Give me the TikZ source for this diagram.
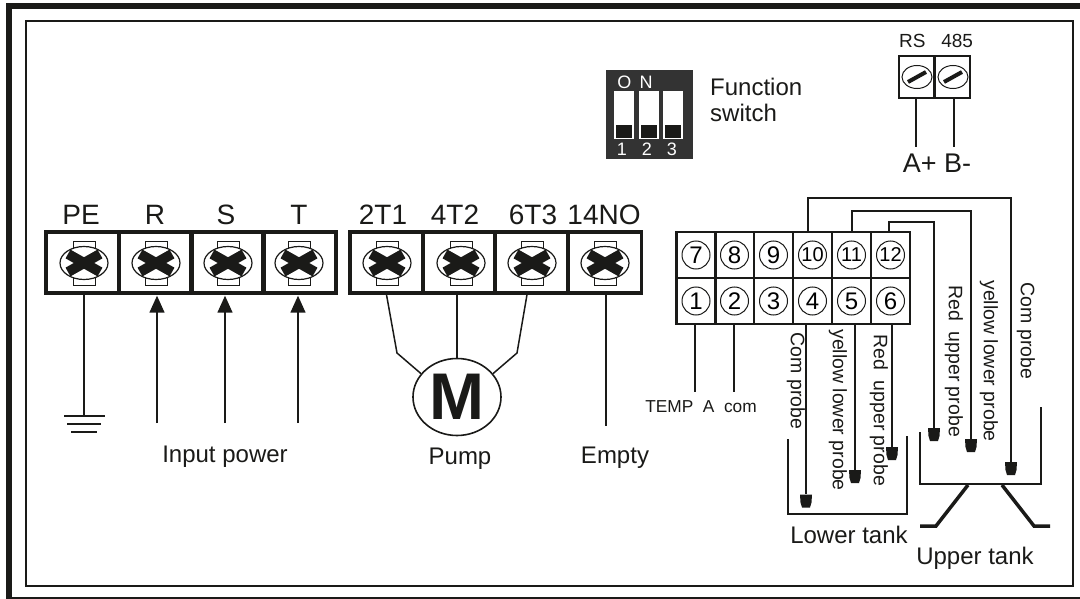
\documentclass[tikz,border=0pt]{standalone}
\usepackage{fontspec}
\setmainfont{Liberation Sans}
\usetikzlibrary{arrows.meta,shapes.geometric}
\definecolor{dipgray}{HTML}{333333}
\definecolor{inkblack}{HTML}{1A1A18}

\tikzset{
  wire/.style={draw=inkblack, line width=1.5pt},
  bigcell/.style={rectangle, draw=inkblack, line width=3.4pt, minimum width=73pt, minimum height=61pt, inner sep=0pt},
  numcell/.style={rectangle, draw=inkblack, line width=2.4pt, minimum width=39pt, minimum height=46pt, inner sep=0pt},
  smallcell/.style={rectangle, draw=inkblack, line width=2pt, minimum width=36pt, minimum height=42pt, inner sep=0pt},
  numring/.style={circle, draw=inkblack, line width=1pt, minimum size=28pt, inner sep=0pt, font=\fontsize{24}{26}\selectfont},
  wideno/.style={numring, font=\fontsize{20}{24}\selectfont},
  lab/.style={inner sep=0pt, text=inkblack, font=\fontsize{24}{28}\selectfont},
  termlab/.style={inner sep=0pt, text=inkblack, font=\fontsize{28}{30}\selectfont},
  sidelab/.style={inner sep=0pt, text=inkblack, rotate=-90, font=\fontsize{19.5}{22}\selectfont},
  probehead/.style={rectangle, minimum width=12pt, minimum height=13pt, inner sep=0pt,
    path picture={\fill[inkblack] (path picture bounding box.north west) -- (path picture bounding box.north east)
      -- ([xshift=-0.5,yshift=5]path picture bounding box.south east) -- ([xshift=-2,yshift=0]path picture bounding box.south east)
      -- ([xshift=2,yshift=0]path picture bounding box.south west) -- ([xshift=0.5,yshift=5]path picture bounding box.south west) -- cycle;}},
  slider/.style={rectangle, fill=white, minimum width=20pt, minimum height=48pt, inner sep=0pt},
  knob/.style={rectangle, fill=inkblack, minimum width=16pt, minimum height=13pt, inner sep=0pt},
  diptext/.style={inner sep=0pt, text=white, font=\fontsize{18}{20}\selectfont},
  bigscrew/.pic={
    \draw[draw=inkblack, fill=white, line width=1pt] (-11,-22) rectangle (11,22);
    \draw[draw=inkblack, fill=white, line width=1.2pt] (0,0) ellipse (24 and 16.5);
    \draw[draw=inkblack, line width=10pt] (-16,-9) -- (16,9);
    \draw[draw=inkblack, line width=10pt] (-16,9) -- (16,-9);
  },
  slotscrew/.pic={
    \draw[draw=inkblack, fill=white, line width=1pt] (0,0) ellipse (15 and 11.5);
    \draw[draw=inkblack, line width=4pt] (-9,5) -- (9,-5);
  }
}

\begin{document}
\begin{tikzpicture}[x=1pt, y=-1pt]
  \useasboundingbox (0,0) rectangle (1080,599);

  % frame
  \draw[draw=inkblack, line width=6pt] (9,599) -- (9,6) -- (1080,6);
  \draw[draw=inkblack, line width=1.2pt] (26,21) rectangle (1073,586);
  \draw[draw=inkblack, line width=1.2pt] (9,598) -- (1080,598);

  % power terminals
  \node[bigcell] (cPE) at (82.5,262.5) {};
  \node[bigcell] (cR) at (155.5,262.5) {};
  \node[bigcell] (cS) at (227.5,262.5) {};
  \node[bigcell] (cT) at (299.5,262.5) {};
  \node[bigcell] (c2T1) at (386.5,262.5) {};
  \node[bigcell] (c4T2) at (459,262.5) {};
  \node[bigcell] (c6T3) at (531.5,262.5) {};
  \node[bigcell] (c14NO) at (605,262.5) {};
  \pic at (84,263) {bigscrew};
  \pic at (156,263) {bigscrew};
  \pic at (228,263) {bigscrew};
  \pic at (299,263) {bigscrew};
  \pic at (387,263) {bigscrew};
  \pic at (461,263) {bigscrew};
  \pic at (532,263) {bigscrew};
  \pic at (605,263) {bigscrew};

  \node[termlab] (lPE) at (81,215) {PE};
  \node[termlab] (lR) at (155,215) {R};
  \node[termlab] (lS) at (226,215) {S};
  \node[termlab] (lT) at (299,215) {T};
  \node[termlab] (l2T1) at (383,215) {2T1};
  \node[termlab] (l4T2) at (455,215) {4T2};
  \node[termlab] (l6T3) at (533,215) {6T3};
  \node[termlab] (l14NO) at (604,215) {14NO};

  % earth and input lines
  \coordinate (gnd) at (84,416);
  \coordinate (inR) at (157,423);
  \coordinate (inS) at (225,423);
  \coordinate (inT) at (298,423);
  \draw[wire] (gnd |- cPE.south) -- (gnd);
  \draw[wire] ([xshift=-20]gnd) -- ([xshift=21]gnd);
  \draw[wire] ([xshift=-17,yshift=-8]gnd) -- ([xshift=17,yshift=-8]gnd);
  \draw[wire] ([xshift=-13,yshift=-16]gnd) -- ([xshift=13,yshift=-16]gnd);
  \draw[wire, -{Triangle[length=17pt,width=15pt]}, shorten >=1pt] (inR) -- (inR |- cR.south);
  \draw[wire, -{Triangle[length=17pt,width=15pt]}, shorten >=1pt] (inS) -- (inS |- cS.south);
  \draw[wire, -{Triangle[length=17pt,width=15pt]}, shorten >=1pt] (inT) -- (inT |- cT.south);
  \node[lab] (lInput) at (225,457) {Input power};

  % pump
  \node[ellipse, draw=inkblack, line width=1.6pt, minimum width=88pt, minimum height=77pt, inner sep=0pt,
        font=\fontsize{66}{68}\bfseries\selectfont, text=inkblack] (motor) at (457,397) {M};
  \draw[wire] (c2T1.south) -- (397,353) -- (motor.147);
  \draw[wire] (motor |- c4T2.south) -- (motor.north);
  \draw[wire] ([xshift=-4.5]c6T3.south) -- (517,353) -- (motor.33);
  \node[lab] (lPump) at (460,459) {Pump};

  % empty
  \coordinate (emptyEnd) at (606,426);
  \draw[wire] (emptyEnd |- c14NO.south) -- (emptyEnd);
  \node[lab] (lEmpty) at (615,458) {Empty};

  % control terminals
  \node[numcell] (c7) at (696,255) {};
  \node[numcell] (c8) at (734.5,255) {};
  \node[numcell] (c9) at (773.5,255) {};
  \node[numcell] (c10) at (812.5,255) {};
  \node[numcell] (c11) at (851.5,255) {};
  \node[numcell] (c12) at (890.5,255) {};
  \node[numcell] (c1) at (696,301) {};
  \node[numcell] (c2) at (734.5,301) {};
  \node[numcell] (c3) at (773.5,301) {};
  \node[numcell] (c4) at (812.5,301) {};
  \node[numcell] (c5) at (851.5,301) {};
  \node[numcell] (c6) at (890.5,301) {};

  \node[numring] at (c7) {7};
  \node[numring] at (c8) {8};
  \node[numring] at (c9) {9};
  \node[wideno] at (c10) {10};
  \node[wideno] at (c11) {11};
  \node[wideno] at (c12) {12};
  \node[numring] at (c1) {1};
  \node[numring] at (c2) {2};
  \node[numring] at (c3) {3};
  \node[numring] at (c4) {4};
  \node[numring] at (c5) {5};
  \node[numring] at (c6) {6};

  % temperature lines
  \coordinate (tempA) at (695,392);
  \coordinate (tempB) at (734,392);
  \draw[wire] (tempA |- c1.south) -- (tempA);
  \draw[wire] (tempB |- c2.south) -- (tempB);
  \node[inner sep=0pt, text=inkblack, font=\fontsize{17.3}{18}\selectfont] (lTemp) at (701,407) {TEMP~~A~~com};

  % probes
  \node[probehead] (pl4) at (806,501) {};
  \node[probehead] (pl5) at (855,476.5) {};
  \node[probehead] (pl6) at (892,453.5) {};
  \node[probehead] (pu1) at (934,434.5) {};
  \node[probehead] (pu2) at (971,445.5) {};
  \node[probehead] (pu3) at (1011,468.5) {};
  \draw[wire] (pl4 |- c4.south) -- (pl4);
  \draw[wire] (pl5 |- c5.south) -- (pl5);
  \draw[wire] (pl6 |- c6.south) -- (pl6);
  \coordinate (top10) at (808,198);
  \coordinate (top11) at (852,211);
  \coordinate (top12) at (889,222);
  \draw[wire] (top10 |- c10.north) -- (top10) -| (pu3);
  \draw[wire] (top11 |- c11.north) -- (top11) -| (pu2);
  \draw[wire, line width=1.2pt] (top12 |- c12.north) -- (top12) -| (pu1);

  \node[sidelab] (lCom1) at (796,381) {Com probe};
  \node[sidelab] (lYel1) at (838,410) {yellow lower probe};
  \node[sidelab] (lRed1) at (879,410) {Red~~upper probe};
  \node[sidelab] (lRed2) at (954,361) {Red~~upper probe};
  \node[sidelab] (lYel2) at (989,361) {yellow lower probe};
  \node[sidelab] (lCom2) at (1026,331) {Com probe};

  % tanks
  \draw[draw=inkblack, line width=2pt] (788,439) -- (788,514) -- (907,514) -- (907,436);
  \draw[draw=inkblack, line width=1.6pt] (920,432) -- (920,484) -- (1041,484) -- (1041,407);
  \draw[draw=inkblack, line width=3.5pt] (920,526) -- (936,526) -- (968,485);
  \draw[draw=inkblack, line width=3.5pt] (1050,526) -- (1034,526) -- (1002,485);
  \node[lab] (lLower) at (849,535) {Lower tank};
  \node[lab] (lUpper) at (975,558) {Upper tank};

  % function switch
  \node[rectangle, fill=dipgray, minimum width=87pt, minimum height=89pt, inner sep=0pt] (dip) at (649.5,114.5) {};
  \node[slider] (s1) at (624,115) {};
  \node[slider] (s2) at (649,115) {};
  \node[slider] (s3) at (673,115) {};
  \node[knob] at (624,131.5) {};
  \node[knob] at (649,131.5) {};
  \node[knob] at (673,131.5) {};
  \node[diptext] (lOn) at (635,82) {O\hspace{0.45em}N};
  \node[diptext] at (622,149) {1};
  \node[diptext] at (647,149) {2};
  \node[diptext] at (672,149) {3};
  \node[lab, align=left, anchor=west, font=\fontsize{24}{26}\selectfont] (lSwitch) at (710,100) {Function\\switch};

  % RS 485
  \node[smallcell] (cA) at (916.5,77) {};
  \node[smallcell] (cB) at (952,77) {};
  \pic at (917,77) {slotscrew};
  \pic at (953,77) {slotscrew};
  \node[inner sep=0pt, text=inkblack, font=\fontsize{19}{22}\selectfont] (lRs) at (936,41) {RS~~~485};
  \coordinate (endA) at (916,147);
  \coordinate (endB) at (954,147);
  \draw[wire] (endA |- cA.south) -- (endA);
  \draw[wire] (endB |- cB.south) -- (endB);
  \node[inner sep=0pt, text=inkblack, font=\fontsize{27}{28}\selectfont] (lAB) at (937,163) {A+ B-};
\end{tikzpicture}
\end{document}
